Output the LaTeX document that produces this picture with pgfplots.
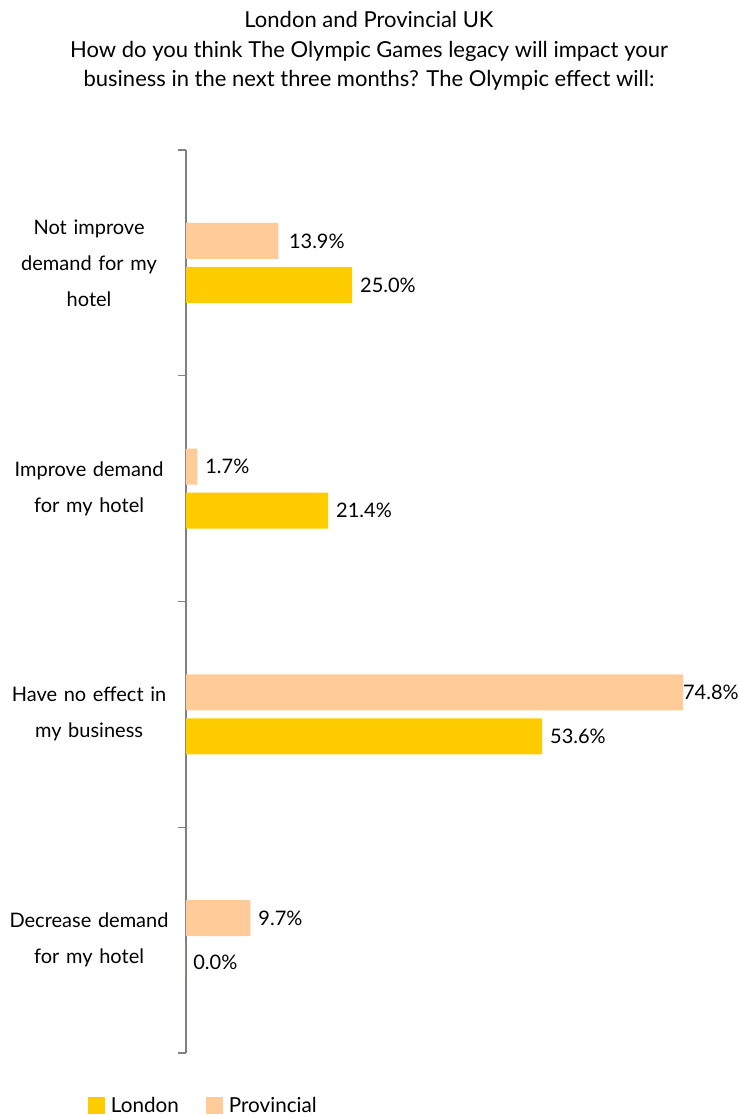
\documentclass[border=0pt]{standalone}
\usepackage{pgfplots}
\pgfplotsset{compat=1.18}
\usepackage{fontspec}
\setmainfont{Lato}
\definecolor{london}{HTML}{FFCC00}
\definecolor{prov}{HTML}{FFCC99}
\definecolor{axisgray}{HTML}{808080}
\begin{document}
\begin{tikzpicture}
\useasboundingbox (-139.5pt,-46.5pt) rectangle (414.75pt,789.75pt);
\begin{axis}[
  at={(0,0)}, anchor=south west,
  scale only axis,
  width=398.7pt, height=677.25pt,
  xbar, bar width=27pt,
  xmin=0, xmax=80,
  ymin=-0.5, ymax=3.5,
  y dir=reverse,
  axis x line=none,
  axis y line*=left,
  y axis line style={axisgray, line width=0.8pt, -},
  ytick={0,1,2,3},
  yticklabels={{Not improve\\[9pt]demand for my\\[9pt]hotel},{Improve demand\\[9pt]for my hotel},{Have no effect in\\[9pt]my business},{Decrease demand\\[9pt]for my hotel}},
  major tick length=0pt,
  minor ytick={-0.5,0.5,1.5,2.5,3.5},
  minor tick length=6pt,
  tick align=outside,
  minor tick style={axisgray, line width=0.8pt},
  yticklabel style={font=\fontsize{15}{18}\selectfont, align=center, text width=125pt, inner sep=0pt, xshift=-10pt},
  /pgf/number format/assume math mode=true,
  nodes near coords={\pgfmathprintnumber[fixed,fixed zerofill,precision=1,assume math mode=true]{\pgfplotspointmeta}\%},
  nodes near coords style={font=\fontsize{15}{18}\selectfont, black, anchor=west, xshift=\sh},
  visualization depends on={\thisrow{sh} \as \sh},
  point meta=explicit,
  legend style={at={(axis description cs:0.033,-0.0585)}, anchor=center, draw=none, legend columns=2, font=\fontsize{15.5}{18}\selectfont,
    /tikz/every even column/.append style={column sep=18pt}},
  legend image code/.code={\fill[#1] (0pt,-6.4pt) rectangle (12.75pt,6.4pt); \path (15.5pt,0pt);},
]
\addplot[fill=london, draw=none, bar shift=-16.5pt] table[x=v, y=c, meta=v] {
c v sh
0 25.0 2.5pt
1 21.4 2.5pt
2 53.6 2.5pt
3 0.0 2pt
};
\addlegendentry{London}
\addplot[fill=prov, draw=none, bar shift=16.5pt] table[x=v, y=c, meta=v] {
c v sh
0 13.9 4.5pt
1 1.7 2.5pt
2 74.8 -3.5pt
3 9.7 2.5pt
};
\addlegendentry{Provincial}
\end{axis}
\node[align=center, font=\fontsize{16.5}{19.5}\selectfont] at (137.25pt,751.5pt) {London and Provincial UK\\[2.5pt]How do you think The Olympic Games legacy will impact your\\[2.5pt]business in the next three months? The Olympic effect will:};
\end{tikzpicture}
\end{document}
